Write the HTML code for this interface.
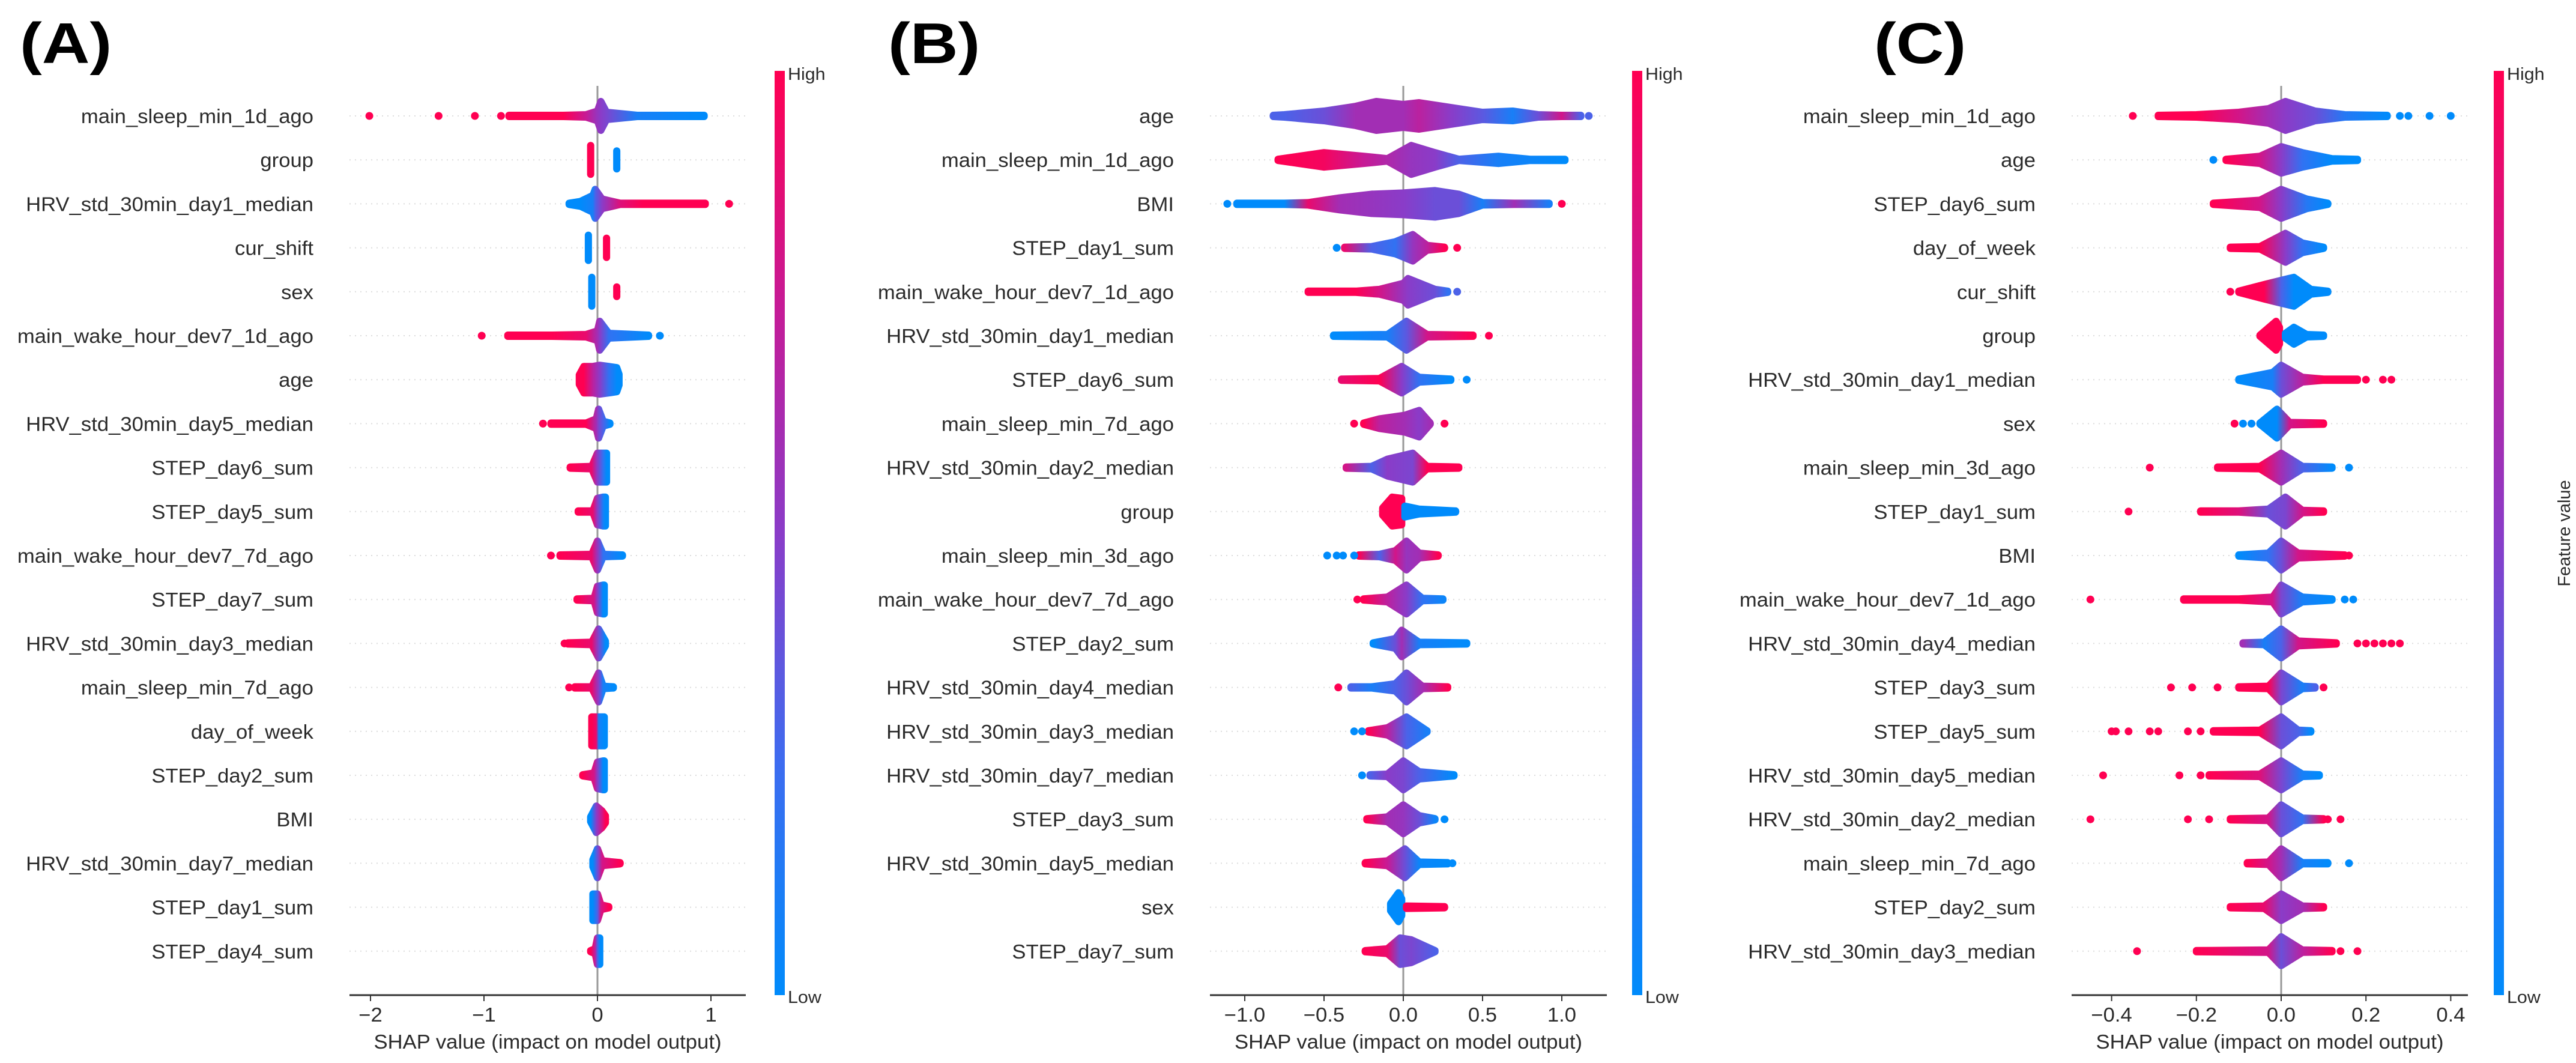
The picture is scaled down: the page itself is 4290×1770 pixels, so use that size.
<!DOCTYPE html>
<html><head><meta charset="utf-8"><title>SHAP summary plots</title>
<style>html,body{margin:0;padding:0;background:#fff}svg{display:block}text{font-family:"Liberation Sans",sans-serif;fill:#2b2b2b}</style>
</head><body>
<svg id="fig" width="4290" height="1770" viewBox="0 0 4290 1770" xmlns="http://www.w3.org/2000/svg">
<defs>
<linearGradient id="cbar" x1="0" y1="1" x2="0" y2="0">
<stop offset="0" stop-color="#008bfb"/><stop offset="0.25" stop-color="#3d6cf0"/><stop offset="0.5" stop-color="#8a3cc8"/><stop offset="0.75" stop-color="#c71a95"/><stop offset="1" stop-color="#ff0052"/>
</linearGradient>
</defs>
</svg>
<script>
// ---------------- data ----------------
const labelsA = ["main_sleep_min_1d_ago","group","HRV_std_30min_day1_median","cur_shift","sex","main_wake_hour_dev7_1d_ago","age","HRV_std_30min_day5_median","STEP_day6_sum","STEP_day5_sum","main_wake_hour_dev7_7d_ago","STEP_day7_sum","HRV_std_30min_day3_median","main_sleep_min_7d_ago","day_of_week","STEP_day2_sum","BMI","HRV_std_30min_day7_median","STEP_day1_sum","STEP_day4_sum"];
const labelsB = ["age","main_sleep_min_1d_ago","BMI","STEP_day1_sum","main_wake_hour_dev7_1d_ago","HRV_std_30min_day1_median","STEP_day6_sum","main_sleep_min_7d_ago","HRV_std_30min_day2_median","group","main_sleep_min_3d_ago","main_wake_hour_dev7_7d_ago","STEP_day2_sum","HRV_std_30min_day4_median","HRV_std_30min_day3_median","HRV_std_30min_day7_median","STEP_day3_sum","HRV_std_30min_day5_median","sex","STEP_day7_sum"];
const labelsC = ["main_sleep_min_1d_ago","age","STEP_day6_sum","day_of_week","cur_shift","group","HRV_std_30min_day1_median","sex","main_sleep_min_3d_ago","STEP_day1_sum","BMI","main_wake_hour_dev7_1d_ago","HRV_std_30min_day4_median","STEP_day3_sum","STEP_day5_sum","HRV_std_30min_day5_median","HRV_std_30min_day2_median","main_sleep_min_7d_ago","STEP_day2_sum","HRV_std_30min_day3_median"];

const ticksA = [-2,-1,0,1];
const tickLabelsA = ["\u22122","\u22121","0","1"];
const ticksB = [-1,-0.5,0,0.5,1];
const tickLabelsB = ["\u22121.0","\u22120.5","0.0","0.5","1.0"];
const ticksC = [-0.4,-0.2,0,0.2,0.4];
const tickLabelsC = ["\u22120.4","\u22120.2","0.0","0.2","0.4"];

// density knots per feature: segments of [shap value, half-width, feature value 0..1]
const shapesA = [
 [[[-0.78,5,1],[-0.3,6,1],[-0.1,8,.75],[0.0,14,.55],[0.03,30,.5],[0.08,12,.45],[0.35,7,.1],[0.94,5,0]]],
 [[[-0.06,30,1]],[[0.17,21,0]]],
 [[[-0.25,5,0],[-0.15,10,0],[-0.04,20,.1],[-0.02,30,.3],[0.04,14,.5],[0.2,6,.85],[0.4,6,1],[0.95,5,1]]],
 [[[-0.08,27,0]],[[0.08,22,1]]],
 [[[-0.05,30,0]],[[0.17,14,1]]],
 [[[-0.79,5,1],[-0.4,6,1],[-0.1,8,.9],[0.0,14,.6],[0.02,30,.5],[0.1,10,.2],[0.45,6,0]]],
 [[[-0.16,14,1],[-0.12,28,1],[-0.04,28,.7],[0.02,30,.5],[0.1,28,.2],[0.17,26,0],[0.19,15,0]]],
 [[[-0.41,5,1],[-0.1,6,1],[-0.01,14,.6],[0.01,30,.45],[0.05,10,.3],[0.11,6,0]]],
 [[[-0.24,6,1],[-0.05,8,.9],[0.0,30,.5],[0.05,30,.2],[0.08,30,0]]],
 [[[-0.17,5,1],[-0.04,7,.9],[0.0,28,.5],[0.05,30,.1],[0.07,30,0]]],
 [[[-0.33,6,1],[-0.05,8,.9],[0.0,30,.55],[0.05,8,.2],[0.22,5,0]]],
 [[[-0.18,6,1],[-0.03,8,.8],[0.0,28,.5],[0.05,30,0],[0.06,30,0]]],
 [[[-0.26,5,1],[-0.05,8,.9],[0.01,30,.45],[0.07,10,0]]],
 [[[-0.2,6,1],[-0.05,7,.9],[0.01,30,.5],[0.05,8,.1],[0.14,5,0]]],
 [[[-0.05,30,1],[-0.01,30,.9],[0.01,30,.1],[0.06,30,0]]],
 [[[-0.13,5,1],[-0.03,10,.8],[0.0,28,.5],[0.05,30,0],[0.06,30,0]]],
 [[[-0.06,10,0],[-0.01,28,.5],[0.04,20,.8],[0.07,12,1]]],
 [[[-0.04,12,0],[0.0,30,.4],[0.04,10,.8],[0.2,5,1]]],
 [[[-0.04,28,0],[0.0,28,.3],[0.03,10,.8],[0.1,5,1]]],
 [[[-0.06,5,1],[-0.02,10,.7],[0.0,28,.3],[0.02,28,0]]]
];
const outliersA = [
 [[-2.01,1],[-1.40,1],[-1.08,1],[-0.85,1]],[],[[1.16,1]],[],[],[[-1.02,1],[0.55,0]],[],[[-0.48,1]],[],[],
 [[-0.41,1]],[],[[-0.29,1]],[[-0.25,1]],[],[],[],[],[],[]
];
const shapesB = [
 [[[-0.82,6,.3],[-0.75,8,.3],[-0.5,14,.4],[-0.3,22,.6],[-0.17,30,.6],[0,25,.6],[0.1,28,.7],[0.3,20,.5],[0.5,12,.35],[0.69,14,.1],[0.85,8,.4],[1.0,6,.8],[1.12,5,.3]]],
 [[[-0.79,5,1],[-0.5,18,.95],[-0.25,12,.75],[-0.1,8,.65],[0.05,30,.55],[0.2,18,.5],[0.35,6,.3],[0.6,12,.1],[0.8,6,.05],[1.02,5,0]]],
 [[[-1.05,5,0],[-0.75,6,0],[-0.6,8,.9],[-0.4,16,.6],[-0.2,22,.55],[0,24,.5],[0.2,28,.4],[0.35,22,.4],[0.5,8,.1],[0.7,6,.6],[0.92,6,.1]]],
 [[[-0.37,5,.9],[-0.2,8,.3],[-0.05,16,.2],[0.06,28,.55],[0.15,10,.7],[0.26,5,1]]],
 [[[-0.6,5,1],[-0.3,6,1],[-0.15,10,.8],[0,20,.55],[0.03,28,.5],[0.2,10,.4],[0.28,5,.2]]],
 [[[-0.44,5,0],[-0.1,8,.1],[0.02,30,.35],[0.15,8,.8],[0.44,5,1]]],
 [[[-0.39,5,.9],[-0.15,8,1],[-0.01,28,.5],[0.1,10,.2],[0.3,5,0]]],
 [[[-0.25,5,1],[-0.15,14,.7],[0.01,20,.6],[0.1,28,.5],[0.17,6,.6]]],
 [[[-0.36,5,.8],[-0.2,8,.3],[-0.1,20,.5],[0.06,30,.45],[0.15,8,1],[0.35,5,1]]],
 [[[-0.13,12,1],[-0.07,30,1],[-0.01,28,1]],[[0.01,15,0],[0.1,10,0],[0.33,5,0]]],
 [[[-0.28,5,1],[-0.15,8,.3],[-0.05,14,.8],[0.02,30,.55],[0.1,10,.6],[0.22,5,1]]],
 [[[-0.25,5,1],[-0.1,10,.7],[0.02,30,.5],[0.12,8,.2],[0.25,5,.05]]],
 [[[-0.19,5,0],[-0.05,14,.4],[-0.01,28,.6],[0.1,8,.1],[0.4,5,0]]],
 [[[-0.33,5,.3],[-0.2,6,.1],[-0.05,12,.3],[0.02,30,.4],[0.12,8,.6],[0.28,5,1]]],
 [[[-0.22,5,1],[-0.1,12,.7],[0.02,30,.3],[0.15,6,.1]]],
 [[[-0.21,5,.3],[-0.1,8,.5],[0,30,.45],[0.1,12,.3],[0.32,5,0]]],
 [[[-0.23,5,1],[-0.1,10,.6],[0,30,.55],[0.1,12,.4],[0.2,5,.05]]],
 [[[-0.24,5,1],[-0.1,10,.75],[0.01,30,.4],[0.1,8,.05],[0.28,5,0]]],
 [[[-0.08,12,0],[-0.03,30,0],[-0.01,20,0]],[[0.02,8,1],[0.26,6,1]]],
 [[[-0.24,5,1],[-0.1,10,.9],[-0.02,28,.4],[0.05,25,.45],[0.2,5,.3]]]
];
const outliersB = [
 [[1.17,.3]],[],[[-1.11,0],[1.0,1]],[[-0.42,0],[0.34,1]],[[0.34,.3]],[[0.54,1]],[[0.4,0]],[[-0.31,1],[0.26,1]],[],[],
 [[-0.48,0],[-0.42,0],[-0.38,0],[-0.31,0]],[[-0.29,1]],[],[[-0.41,1]],[[-0.31,0],[-0.26,0]],[[-0.26,0]],[[0.26,0]],[[0.31,0]],[],[]
];
const shapesC = [
 [[[-0.29,5,1],[-0.2,8,1],[-0.1,12,.8],[-0.03,18,.6],[0.01,30,.5],[0.08,14,.4],[0.15,8,.15],[0.25,6,0]]],
 [[[-0.13,5,1],[-0.05,12,.8],[0,28,.5],[0.05,18,.2],[0.12,8,0],[0.18,5,0]]],
 [[[-0.16,6,1],[-0.05,12,.8],[0,30,.5],[0.06,14,.15],[0.11,6,0]]],
 [[[-0.12,5,1],[-0.05,8,1],[0.01,30,.5],[0.05,14,.2],[0.1,5,0]]],
 [[[-0.1,5,1],[-0.04,18,1],[0,25,.3],[0.03,30,0],[0.07,10,0],[0.11,5,0]]],
 [[[-0.05,6,1],[-0.012,30,1],[-0.004,20,1]],[[0.01,10,0],[0.03,20,0],[0.06,8,0],[0.1,5,0]]],
 [[[-0.1,5,0],[-0.02,18,.1],[0,30,.4],[0.05,10,.7],[0.1,6,1],[0.18,5,1]]],
 [[[-0.05,5,0],[-0.01,30,0],[0.02,8,.8],[0.1,5,1]]],
 [[[-0.15,5,1],[-0.05,8,1],[0,30,.6],[0.05,8,.3],[0.12,5,0]]],
 [[[-0.19,5,1],[-0.1,5,.85],[-0.03,10,.4],[0.01,30,.45],[0.05,8,.8],[0.1,5,1]]],
 [[[-0.1,5,0],[-0.03,10,.2],[0,30,.4],[0.04,10,.8],[0.15,5,1]]],
 [[[-0.23,5,1],[-0.1,6,1],[-0.02,10,.8],[0,30,.45],[0.05,10,.1],[0.12,5,0]]],
 [[[-0.09,5,.6],[-0.04,8,.1],[0,30,.3],[0.04,10,.8],[0.13,5,1]]],
 [[[-0.1,5,1],[-0.03,8,1],[0,30,.45],[0.05,8,.1],[0.08,5,.3]]],
 [[[-0.16,5,1],[-0.05,8,1],[0,30,.4],[0.04,8,.3],[0.07,5,0]]],
 [[[-0.17,5,1],[-0.05,8,.85],[0,30,.45],[0.05,8,.1],[0.09,5,0]]],
 [[[-0.12,5,1],[-0.03,8,.8],[0,30,.4],[0.05,8,.2],[0.1,5,1]]],
 [[[-0.08,5,1],[-0.03,8,.8],[0,30,.6],[0.05,6,.1],[0.11,5,0]]],
 [[[-0.12,5,1],[-0.04,8,.9],[0,28,.5],[0.05,8,.6],[0.1,5,1]]],
 [[[-0.2,5,1],[-0.03,8,.8],[0,30,.4],[0.05,8,.7],[0.12,5,1]]]
];
const outliersC = [
 [[-0.35,1],[0.28,0],[0.3,0],[0.35,0],[0.40,0]],[[-0.16,0]],[],[],[[-0.12,1]],[],[[0.2,1],[0.24,1],[0.26,1]],[[-0.11,1],[-0.09,0],[-0.07,0]],[[-0.31,1],[0.16,0]],[[-0.36,1]],
 [[0.16,1]],[[-0.45,1],[0.15,0],[0.17,0]],[[0.18,1],[0.2,1],[0.22,1],[0.24,1],[0.26,1],[0.28,1]],[[-0.26,1],[-0.21,1],[-0.15,1],[0.1,1]],[[-0.4,1],[-0.39,1],[-0.36,1],[-0.31,1],[-0.29,1],[-0.22,1],[-0.19,1]],[[-0.42,1],[-0.24,1],[-0.19,1]],[[-0.45,1],[-0.22,1],[-0.17,1],[0.11,1],[0.14,1]],[[0.16,0]],[],[[-0.34,1],[0.14,1],[0.18,1]]
];

// ---------------- layout ----------------
const NS = "http://www.w3.org/2000/svg";
const svg = document.getElementById("fig");
const ROW0 = 193, ROWSTEP = 73.2, AXIS_Y = 1657, TOP_Y = 143;
const panels = [
 {id:"a", title:"(A)", titleX:33, ax0:582, ax1:1242, zero:995, unit:189, cbX:1290, labels:labelsA, ticks:ticksA, tickLabels:tickLabelsA, shapes:shapesA, outliers:outliersA, feat:false},
 {id:"b", title:"(B)", titleX:1479, ax0:2015, ax1:2676, zero:2337, unit:264, cbX:2718, labels:labelsB, ticks:ticksB, tickLabels:tickLabelsB, shapes:shapesB, outliers:outliersB, feat:false},
 {id:"c", title:"(C)", titleX:3121, ax0:3450, ax1:4110, zero:3799, unit:706, cbX:4153, labels:labelsC, ticks:ticksC, tickLabels:tickLabelsC, shapes:shapesC, outliers:outliersC, feat:true}
];
const cstops = [[0,[0,139,251]],[0.25,[61,108,240]],[0.5,[138,60,200]],[0.75,[199,26,149]],[1,[255,0,82]]];
function color(c){
  for(let i=1;i<cstops.length;i++){
    if(c<=cstops[i][0]){const a=cstops[i-1],b=cstops[i];const t=(c-a[0])/(b[0]-a[0]);
      return "rgb("+a[1].map((v,k)=>Math.round(v+(b[1][k]-v)*t)).join(",")+")";}
  }
  return "rgb(255,0,82)";
}
function el(tag, attrs, parent){const e=document.createElementNS(NS,tag);for(const k in attrs)e.setAttribute(k,attrs[k]);(parent||svg).appendChild(e);return e;}
function stext(parent,x,y,str,size,anchor,weight,sx){
  const g=el("g",{transform:"translate("+x+","+y+") scale("+(sx||1.05)+",1)"},parent);
  const t=el("text",{x:0,y:0,"font-size":size,"text-anchor":anchor||"start","font-weight":weight||"normal"},g);
  t.textContent=str;return t;
}
const defs = svg.querySelector("defs");
let gid=0;
panels.forEach(p=>{
  const xs = v => p.zero + v*p.unit;
  const ys = i => ROW0 + i*ROWSTEP;
  const g = el("g",{});
  
  
  const tt = stext(g,p.titleX,105,p.title,96,"start","bold",1.15);
  
  
  tt.style.fill="#000";
  p.labels.forEach((lab,i)=>{
    const ln = el("line",{x1:p.ax0,x2:p.ax1,y1:ys(i),y2:ys(i),stroke:"#dcdcdc","stroke-width":2,"stroke-dasharray":"2,7"},g);
    
    
    const t = stext(g,p.ax0-60,ys(i)+12,lab,33,"end");
    
    
  });
  const zl = el("line",{x1:xs(0),x2:xs(0),y1:TOP_Y,y2:AXIS_Y,stroke:"#999","stroke-width":3},g);
  
  
  p.shapes.forEach((segs,i)=>{
    const y=ys(i);
    segs.forEach(seg=>{
      if(seg.length===1){
        const k=seg[0];
        const r=el("rect",{x:xs(k[0])-6,y:y-k[1],width:12,height:2*k[1],rx:6,fill:color(k[2])},g);
        
        
        return;
      }
      const id="sg"+(gid++);
      const x1=xs(seg[0][0]), x2=xs(seg[seg.length-1][0]);
      const lg=el("linearGradient",{id:id,gradientUnits:"userSpaceOnUse",x1:x1,x2:x2,y1:0,y2:0},defs);
      seg.forEach(k=>el("stop",{offset:(xs(k[0])-x1)/(x2-x1),"stop-color":color(k[2])},lg));
      const up=seg.map(k=>xs(k[0])+","+(y-Math.max(1,k[1]-6)));
      const dn=seg.slice().reverse().map(k=>xs(k[0])+","+(y+Math.max(1,k[1]-6)));
      const poly=el("polygon",{points:up.concat(dn).join(" "),fill:"url(#"+id+")",stroke:"url(#"+id+")","stroke-width":12,"stroke-linejoin":"round"},g);
      
      
    });
    p.outliers[i].forEach(o=>{
      const c=el("circle",{cx:xs(o[0]),cy:y,r:6.5,fill:color(o[1])},g);
      
      
    });
  });
  const ax = el("line",{x1:p.ax0,x2:p.ax1,y1:AXIS_Y,y2:AXIS_Y,stroke:"#333","stroke-width":3},g);
  
  
  p.ticks.forEach((v,i)=>{
    const tk=el("line",{x1:xs(v),x2:xs(v),y1:AXIS_Y,y2:AXIS_Y+10,stroke:"#333","stroke-width":2},g);
    
    
    const tl=stext(g,xs(v),1701,p.tickLabels[i],33,"middle");
    
    
  });
  const xt=stext(g,(p.ax0+p.ax1)/2,1746,"SHAP value (impact on model output)",33,"middle");
  
  
  const cb=el("rect",{x:p.cbX,y:118,width:17,height:AXIS_Y-118,fill:"url(#cbar)"},g);
  
  
  const hi=stext(g,p.cbX+22,133,"High",29,"start");
  
  
  const lo=stext(g,p.cbX+22,1670,"Low",29,"start");
  
  
  if(p.feat){
    const ft=el("text",{x:0,y:0,"font-size":29,"text-anchor":"middle",transform:"translate(4280,888) rotate(-90)"},g);
    ft.textContent="Feature value";
    
    
  }
});
</script>
</body></html>
